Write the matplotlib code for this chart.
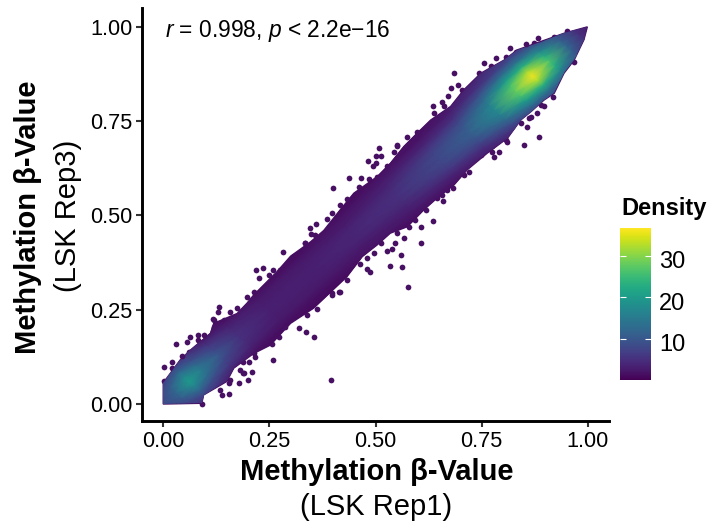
import matplotlib
matplotlib.use("Agg")
import matplotlib.pyplot as plt
import numpy as np
from matplotlib.colors import Normalize
from matplotlib.patches import Polygon
from matplotlib.transforms import ScaledTranslation

plt.rcParams['font.family'] = ['Liberation Sans', 'DejaVu Sans']
plt.rcParams['mathtext.fontset'] = 'custom'
plt.rcParams['mathtext.rm'] = 'Liberation Sans'
plt.rcParams['mathtext.it'] = 'Liberation Sans:italic'

# density: columns = position along the diagonal, rows = y - x
along = [0, .03, .06, .09, .13, .18, .25, .35, .45, .55, .65, .72, .78, .83, .87, .91, .95, .98, 1]
offset = [-.15, -.10, -.075, -.05, -.025, 0, .025, .05, .075, .10, .15]
density = [
    [2, 3, 5, 6, 7, 8, 7, 6, 5, 3, 2],
    [2, 4, 6, 8, 11, 12, 11, 8, 6, 4, 2],
    [2, 4, 7, 12, 17, 20, 17, 12, 7, 4, 2],
    [2, 3, 6, 9, 13, 15, 13, 9, 6, 3, 2],
    [1, 2, 3, 6, 8, 10, 8, 6, 3, 2, 1],
    [1, 1, 2, 3.5, 4.5, 5, 4.5, 3.5, 2, 1, 1],
    [1, 1, 1.5, 2.5, 3, 3.2, 3, 2.5, 1.5, 1, 1],
    [1, 1, 1.5, 2.5, 3, 3.2, 3, 2.5, 1.5, 1, 1],
    [1, 1, 2, 2.5, 3.5, 3.8, 3.5, 2.5, 2, 1, 1],
    [1, 1.5, 2.5, 3.5, 4.5, 5, 4.5, 3.5, 2.5, 1.5, 1],
    [1, 2, 3.5, 6, 7.5, 8, 7.5, 6, 3.5, 2, 1],
    [1, 3, 5, 8, 10, 11, 10, 8, 5, 3, 1],
    [2, 5, 9, 13, 16, 17, 16, 13, 9, 5, 2],
    [3, 7, 13, 20, 26, 28, 26, 20, 13, 7, 3],
    [3, 8, 14, 23, 32, 36, 32, 23, 14, 8, 3],
    [3, 6, 11, 17, 23, 26, 23, 17, 11, 6, 3],
    [2, 4, 6, 9, 11, 12, 11, 9, 6, 4, 2],
    [1, 2, 3, 4, 5, 5, 5, 4, 3, 2, 1],
    [1, 1, 2, 2, 3, 3, 3, 2, 2, 1, 1],
]

# outline of the solid cloud
upper_x = [0, 0, .04, .064, .111, .119, .174, .197, .213, .268, .300, .347, .378, .417, .449, .504, .535, .567,
           .598, .630, .677, .708, .748, .803, .834, .889, .944, .999]
upper_y = [0, .056, .117, .143, .187, .214, .240, .267, .289, .351, .392, .430, .460, .515, .559, .603, .638, .683,
           .718, .753, .789, .833, .877, .912, .939, .961, .983, 1.0]
lower_x = [.991, .968, .944, .921, .897, .866, .842, .811, .763, .716, .685, .645, .614, .575, .535, .504, .469,
           .433, .402, .354, .300, .252, .213, .166, .150, .095, .091]
lower_y = [.966, .912, .877, .824, .806, .775, .753, .705, .665, .621, .581, .546, .515, .470, .453, .422, .391,
           .338, .305, .254, .214, .156, .134, .095, .060, .024, .002]

# single points outside the cloud
stray_x = [.509, .550, .482, .501, .513, .502, .495, .437, .400, .416, .433, .386, .398, .360, .345, .334, .347,
           .358, .636, .606, .608, .528, .545, .540, .559, .535, .562, .576, .463, .479, .488, .683, .720, .660,
           .685, .755, .783, .817, .854, .883, .694, .671, .657, .677, .636, .885, .850, .856, .917, .897, .881,
           .862, .809, .791, .779, .774, .132, .031, .064, .057, .020, .001, .044, .259, .336, .319, .288, .199,
           .209, .191, .178, .156, .138, .201, .083, .097, .395, .354, .219, .234, .259, .282, .333, .225, .117,
           .130]
stray_y = [.678, .687, .645, .658, .658, .638, .630, .600, .574, .528, .543, .490, .506, .477, .466, .426, .451,
           .448, .484, .428, .469, .407, .426, .410, .394, .366, .363, .310, .371, .357, .351, .572, .616, .537,
           .877, .904, .917, .943, .955, .970, .846, .818, .802, .839, .789, .707, .687, .734, .815, .789, .771,
           .758, .696, .667, .656, .669, .256, .158, .178, .165, .112, .099, .128, .117, .192, .201, .205, .065,
           .086, .081, .057, .026, .024, .112, .183, .183, .064, .178, .355, .360, .355, .402, .426, .333, .225,
           .245]

# points hugging the edge of the cloud
edge_x = [.307, .319, .354, .374, .390, .406, .421, .437, .457, .461, .465, .484, .504, .528, .543, .551, .575, .598,
          .370, .398, .417, .390, .433, .480, .496, .512, .551, .567, .579, .594, .618, .646, .657, .669, .708,
          .119, .142, .174, .197, .213, .248, .276, .315, .154, .189, .189, .213, .256, .272, .339, .363, .398, .413,
          .638, .661, .704, .724, .744, .771, .807, .830, .873, .920, .952, .968, .889, .866, .842, .807, .775, .748,
          .001, .020, .060, .083, .119, .130, .158, .091, .134, .158, .182, .217, .252]
edge_y = [.393, .398, .426, .446, .462, .472, .510, .528, .546, .576, .599, .596, .603, .630, .669, .683, .709, .720,
          .285, .294, .298, .307, .329, .386, .400, .426, .453, .440, .470, .488, .515, .546, .554, .568, .607,
          .205, .223, .254, .283, .298, .342, .355, .395, .055, .081, .112, .134, .159, .178, .236, .251, .289, .298,
          .771, .789, .833, .842, .877, .895, .921, .934, .957, .974, .988, .908, .793, .762, .745, .700, .683, .660,
          .060, .095, .139, .170, .223, .210, .245, .000, .037, .064, .090, .125, .165]

ticks = [0, 0.25, 0.5, 0.75, 1]
tick_labels = ["0.00", "0.25", "0.50", "0.75", "1.00"]
bar_ticks = [10, 20, 30]

W, H = 708, 523
fig = plt.figure(figsize=(W / 100, H / 100), dpi=100)
ax = fig.add_axes([142 / W, (H - 421) / H, (609 - 142) / W, (421 - 8) / H])
ax.set_xlim(-0.05, 1.05)
ax.set_ylim(-0.045, 1.05)

cmap = plt.get_cmap("viridis")
norm = Normalize(0, 36.7)
low = cmap(norm(1.5))

T, D = np.meshgrid(along, offset, indexing="ij")
cloud = Polygon(np.column_stack([upper_x + lower_x, upper_y + lower_y]), closed=True,
                facecolor=low, edgecolor=low, linewidth=1.0, zorder=2)
ax.add_patch(cloud)
mesh = ax.pcolormesh(T - D / 2, T + D / 2, np.array(density), cmap=cmap, norm=norm, shading="gouraud", zorder=3)
mesh.set_clip_path(cloud)
ax.scatter(edge_x, edge_y, s=17, color=low, linewidths=0, zorder=2)
ax.scatter(stray_x, stray_y, s=17, color=low, linewidths=0, zorder=4)

ax.spines[["top", "right"]].set_visible(False)
ax.spines[["left", "bottom"]].set_linewidth(2.1)
ax.set_xticks(ticks, tick_labels)
ax.set_yticks(ticks, tick_labels)
ax.tick_params(labelsize=15.7, length=4, width=1.5, color="#333333", pad=3)

ax.text(0.005, 0.99, r"$\mathit{r}$ = 0.998, $\mathit{p}$ < 2.2e−16", fontsize=16.4, va="center", ha="left")

fig.text(377 / W, 1 - 472 / H, "Methylation β-Value", fontsize=21, fontweight="bold", ha="center", va="center")
fig.text(376 / W, 1 - 507 / H, "(LSK Rep1)", fontsize=21, ha="center", va="center")
fig.text(28 / W, 1 - 217 / H, "Methylation β-Value", fontsize=21, fontweight="bold", rotation=90, ha="center", va="center")
fig.text(68 / W, 1 - 216 / H, "(LSK Rep3)", fontsize=21, rotation=90, ha="center", va="center")

cax = fig.add_axes([620 / W, (H - 380) / H, 31 / W, 152 / H])
bar = fig.colorbar(plt.cm.ScalarMappable(norm=norm, cmap=cmap), cax=cax)
bar.outline.set_visible(False)
bar.set_ticks(bar_ticks)
cax.tick_params(axis="y", which="both", direction="in", left=True, right=True, length=4.5, width=0.8,
                color="white", labelsize=17, pad=6)
# the bar's labels sit a little below their ticks
for lab in cax.get_yticklabels():
    lab.set_transform(lab.get_transform() + ScaledTranslation(0, -4 / 100, fig.dpi_scale_trans))
fig.text(621 / W, 1 - 209 / H, "Density", fontsize=17, fontweight="bold", ha="left", va="center")

fig.savefig("out.png", dpi=100)
